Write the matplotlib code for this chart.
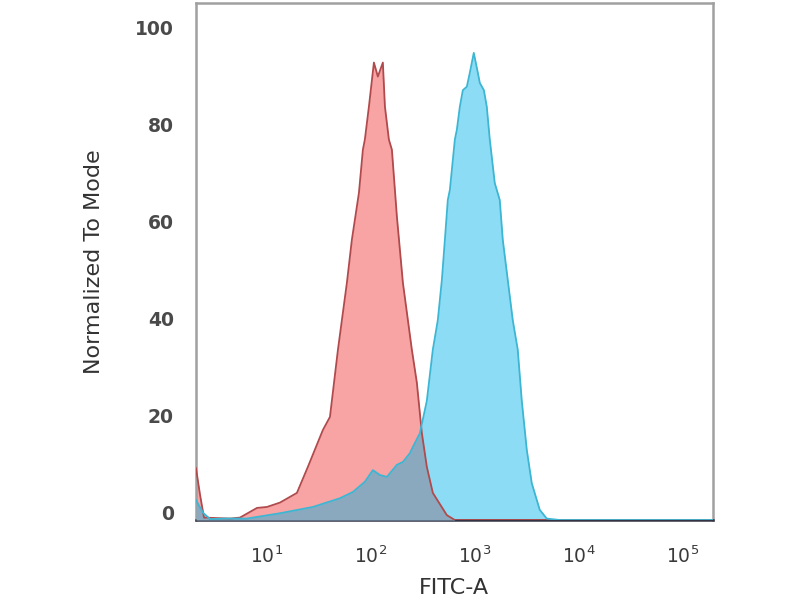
import numpy as np
import matplotlib
matplotlib.use("Agg")
import matplotlib.pyplot as plt
from matplotlib import transforms

# log10(FITC-A) positions and "Normalized To Mode" values
red_log = [0.317, 0.356, 0.394, 0.644, 0.740, 0.904, 1.0, 1.125, 1.288, 1.394,
           1.538, 1.606, 1.683, 1.769, 1.817, 1.885, 1.923, 1.942, 1.981, 2.029,
           2.067, 2.115, 2.135, 2.173, 2.202, 2.231, 2.250, 2.308, 2.394, 2.442,
           2.490, 2.538, 2.596, 2.731, 2.808, 5.29]
red_val = [10.7, 5.2, 0.5, 0.3, 0.5, 2.5, 2.7, 3.6, 5.6, 11.0,
           18.6, 21.3, 35.2, 49.0, 57.9, 67.6, 76.5, 78.6, 85.4, 94.5,
           91.6, 94.5, 85.4, 78.6, 76.5, 68.2, 62.7, 49.0, 35.2, 28.4,
           18.0, 11.0, 5.6, 1.0, 0.0, 0.0]

blue_log = [0.317, 0.385, 0.452, 0.596, 0.808, 1.125, 1.442, 1.702, 1.827, 1.942,
            2.019, 2.087, 2.154, 2.250, 2.308, 2.375, 2.404, 2.471, 2.538, 2.596,
            2.644, 2.683, 2.712, 2.740, 2.760, 2.808, 2.827, 2.856, 2.885, 2.923,
            2.952, 2.990, 3.029, 3.048, 3.087, 3.115, 3.144, 3.192, 3.240, 3.269,
            3.317, 3.365, 3.413, 3.452, 3.500, 3.548, 3.625, 3.692, 3.817, 5.29]
blue_val = [4.1, 1.5, 0.2, 0.3, 0.3, 1.4, 2.7, 4.5, 5.8, 7.9,
            10.3, 9.3, 8.9, 11.4, 12.0, 13.8, 15.1, 17.9, 24.6, 35.2,
            41.3, 49.6, 57.9, 66.1, 68.2, 78.6, 80.6, 85.4, 88.8, 89.5,
            92.4, 96.5, 92.4, 90.3, 88.8, 85.4, 78.6, 69.6, 66.1, 57.9,
            49.6, 41.3, 35.2, 24.6, 14.5, 7.6, 2.1, 0.3, 0.0, 0.0]

yticks = [0, 20, 40, 60, 80, 100]
xticks = [1e1, 1e2, 1e3, 1e4, 1e5]
xtick_labels = [r'$10^{1}$', r'$10^{2}$', r'$10^{3}$', r'$10^{4}$', r'$10^{5}$']

fig = plt.figure(figsize=(8, 6), dpi=100)
ax = fig.add_axes([0.245, 0.1333, 0.646, 0.8617])

rx = 10 ** np.array(red_log)
bx = 10 ** np.array(blue_log)

# overlap region (red under blue) on a shared grid
grid = np.union1d(red_log, blue_log)
r_on = np.interp(grid, red_log, red_val)
b_on = np.interp(grid, blue_log, blue_val)
overlap = np.minimum(r_on, b_on)

ax.fill_between(rx, 0, red_val, color='#f8a3a4', lw=0, zorder=1)
ax.fill_between(bx, 0, blue_val, color='#8ddcf5', lw=0, zorder=2)
ax.fill_between(10 ** grid, 0, overlap, color='#8aa9bf', lw=0, zorder=3)
ax.plot(rx, red_val, color='#b04a4c', lw=1.3, zorder=4)
ax.plot(bx, blue_val, color='#3cb6d2', lw=1.3, zorder=5)

ax.set_xscale('log')
ax.set_xlim(10 ** 0.317, 10 ** 5.29)
ax.set_ylim(0, 106.8)
ax.set_xticks(xticks)
ax.set_xticklabels(xtick_labels)
ax.xaxis.set_minor_locator(matplotlib.ticker.NullLocator())
ax.set_yticks(yticks)
ax.tick_params(axis='both', length=0, labelsize=13.5, colors='#3a3a3a')
ax.tick_params(axis='y', pad=16, colors='#4a4a4a')
ax.tick_params(axis='x', pad=18)
for lab in ax.get_yticklabels():
    lab.set_fontweight('bold')
    # labels sit a little above their grid value in the original
    lab.set_transform(lab.get_transform() + transforms.ScaledTranslation(0, 0.08, fig.dpi_scale_trans))

for s in ['left', 'top', 'right']:
    ax.spines[s].set_color('#a0a0a0')
    ax.spines[s].set_linewidth(1.8)
ax.spines['bottom'].set_color('#333344')
ax.spines['bottom'].set_linewidth(1.8)

ax.set_ylabel('Normalized To Mode', fontsize=16, color='#333333', labelpad=22)
ax.set_xlabel('FITC-A', fontsize=16, color='#333333', labelpad=8)

fig.savefig('out.png', dpi=100)
